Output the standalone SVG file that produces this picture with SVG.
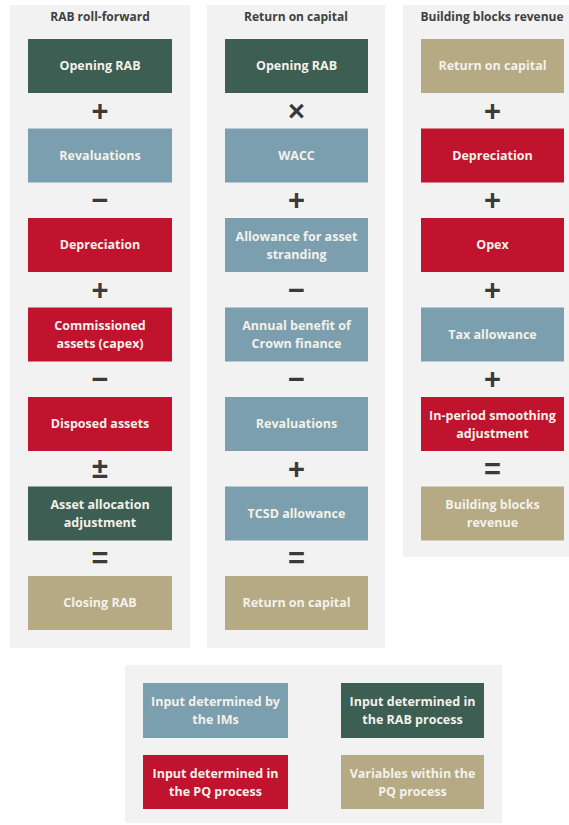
<svg xmlns="http://www.w3.org/2000/svg" width="569" height="825" viewBox="0 0 569 825">
<style>
.panel{fill:#f2f2f2}
.g{fill:#3c5e53}.b{fill:#7b9fae}.r{fill:#c0132e}.t{fill:#b5aa84}
.bt{font-family:"Open Sans","Liberation Sans",sans-serif;font-weight:700;font-size:12.5px;fill:#f4f1ea;text-anchor:middle}
.title{font-family:"Open Sans","Liberation Sans",sans-serif;font-weight:700;font-size:12px;fill:#404040;text-anchor:middle}
.op{font-family:"Liberation Sans","DejaVu Sans",sans-serif;font-weight:700;font-size:29px;fill:#3a3a3a;text-anchor:middle}
</style>
<rect width="569" height="825" fill="#ffffff"/>
<g id="panels">
<rect class="panel" x="10" y="5" width="180" height="643"/>
<rect class="panel" x="207" y="5" width="178" height="643"/>
<rect class="panel" x="403" y="5" width="166" height="552"/>
<rect class="panel" x="125" y="665" width="377" height="158"/>
</g>
<g id="titles">
<text class="title" x="100" y="21">RAB roll-forward</text>
<text class="title" x="296" y="21">Return on capital</text>
<text class="title" x="492" y="21">Building blocks revenue</text>
</g>
<g id="col1">
<g id="c1n1"><rect class="g" x="28" y="39" width="144" height="54"/><text class="bt" x="100" y="70">Opening RAB</text></g>
<g id="c1n2"><rect class="b" x="28" y="128.5" width="144" height="54"/><text class="bt" x="100" y="159.5">Revaluations</text></g>
<g id="c1n3"><rect class="r" x="28" y="218" width="144" height="54"/><text class="bt" x="100" y="249">Depreciation</text></g>
<g id="c1n4"><rect class="r" x="28" y="307.5" width="144" height="54"/><text class="bt" x="100" y="330">Commissioned</text><text class="bt" x="100" y="348">assets (capex)</text></g>
<g id="c1n5"><rect class="r" x="28" y="397" width="144" height="54"/><text class="bt" x="100" y="428">Disposed assets</text></g>
<g id="c1n6"><rect class="g" x="28" y="486.5" width="144" height="54"/><text class="bt" x="100" y="509">Asset allocation</text><text class="bt" x="100" y="527">adjustment</text></g>
<g id="c1n7"><rect class="t" x="28" y="576" width="144" height="54"/><text class="bt" x="100" y="607">Closing RAB</text></g>
</g>
<g id="col2">
<g id="c2n1"><rect class="g" x="225" y="39" width="143" height="54"/><text class="bt" x="296.5" y="70">Opening RAB</text></g>
<g id="c2n2"><rect class="b" x="225" y="128.5" width="143" height="54"/><text class="bt" x="296.5" y="159.5">WACC</text></g>
<g id="c2n3"><rect class="b" x="225" y="218" width="143" height="54"/><text class="bt" x="296.5" y="240.5">Allowance for asset</text><text class="bt" x="296.5" y="258.5">stranding</text></g>
<g id="c2n4"><rect class="b" x="225" y="307.5" width="143" height="54"/><text class="bt" x="296.5" y="330">Annual benefit of</text><text class="bt" x="296.5" y="348">Crown finance</text></g>
<g id="c2n5"><rect class="b" x="225" y="397" width="143" height="54"/><text class="bt" x="296.5" y="428">Revaluations</text></g>
<g id="c2n6"><rect class="b" x="225" y="486.5" width="143" height="54"/><text class="bt" x="296.5" y="518">TCSD allowance</text></g>
<g id="c2n7"><rect class="t" x="225" y="576" width="143" height="54"/><text class="bt" x="296.5" y="607">Return on capital</text></g>
</g>
<g id="col3">
<g id="c3n1"><rect class="t" x="421" y="39" width="143" height="54"/><text class="bt" x="492.5" y="70">Return on capital</text></g>
<g id="c3n2"><rect class="r" x="421" y="128.5" width="143" height="54"/><text class="bt" x="492.5" y="159.5">Depreciation</text></g>
<g id="c3n3"><rect class="r" x="421" y="218" width="143" height="54"/><text class="bt" x="492.5" y="249">Opex</text></g>
<g id="c3n4"><rect class="b" x="421" y="307.5" width="143" height="54"/><text class="bt" x="492.5" y="338.5">Tax allowance</text></g>
<g id="c3n5"><rect class="r" x="421" y="397" width="143" height="54"/><text class="bt" x="492.5" y="419.5">In-period smoothing</text><text class="bt" x="492.5" y="437.5">adjustment</text></g>
<g id="c3n6"><rect class="t" x="421" y="486.5" width="143" height="54"/><text class="bt" x="492.5" y="509">Building blocks</text><text class="bt" x="492.5" y="527">revenue</text></g>
</g>
<g id="operators">
<text class="op" x="100" y="121">+</text>
<text class="op" x="100" y="210">−</text>
<text class="op" x="100" y="300">+</text>
<text class="op" x="100" y="389">−</text>
<text class="op" x="100" y="478">±</text>
<text class="op" x="100" y="568">=</text>
<text class="op" x="296.5" y="121">×</text>
<text class="op" x="296.5" y="210">+</text>
<text class="op" x="296.5" y="300">−</text>
<text class="op" x="296.5" y="389">−</text>
<text class="op" x="296.5" y="479">+</text>
<text class="op" x="296.5" y="568">=</text>
<text class="op" x="492.5" y="121">+</text>
<text class="op" x="492.5" y="210">+</text>
<text class="op" x="492.5" y="300">+</text>
<text class="op" x="492.5" y="389">+</text>
<text class="op" x="492.5" y="479">=</text>
</g>
<g id="legend">
<g id="l1"><rect class="b" x="143" y="683" width="145" height="55"/><text class="bt" x="215.5" y="706">Input determined by</text><text class="bt" x="215.5" y="724">the IMs</text></g>
<g id="l2"><rect class="g" x="341" y="683" width="143" height="55"/><text class="bt" x="412.5" y="706">Input determined in</text><text class="bt" x="412.5" y="724">the RAB process</text></g>
<g id="l3"><rect class="r" x="143" y="755" width="145" height="54"/><text class="bt" x="215.5" y="778">Input determined in</text><text class="bt" x="215.5" y="796">the PQ process</text></g>
<g id="l4"><rect class="t" x="341" y="755" width="143" height="54"/><text class="bt" x="412.5" y="778">Variables within the</text><text class="bt" x="412.5" y="796">PQ process</text></g>
</g>
</svg>
